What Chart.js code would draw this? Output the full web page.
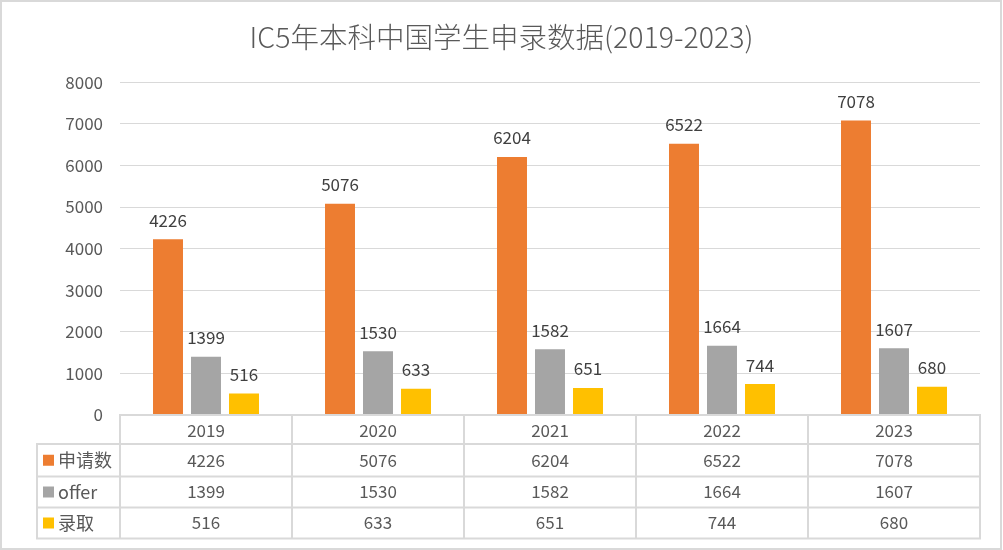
<!DOCTYPE html>
<html>
<head>
<meta charset="utf-8">
<script src="https://cdn.jsdelivr.net/npm/chart.js@4/dist/chart.umd.min.js"></script>
<style>
html,body{margin:0;padding:0;background:#fff;}
#wrap{width:1003px;height:550px;position:relative;}
</style>
</head>
<body>
<div id="wrap"><canvas id="c" width="1003" height="550"></canvas></div>
<script>
const titleText = "IC5年本科中国学生申录数据(2019-2023)";
const categories = ["2019", "2020", "2021", "2022", "2023"];
const seriesNames = ["申请数", "offer", "录取"];
const applications = [4226, 5076, 6204, 6522, 7078];
const offers = [1399, 1530, 1582, 1664, 1607];
const admissions = [516, 633, 651, 744, 680];
const seriesColors = ["#ED7D31", "#A5A5A5", "#FFC000"];
const yTicks = [0, 1000, 2000, 3000, 4000, 5000, 6000, 7000, 8000];

const FONT = "'Noto Sans CJK SC', 'Noto Sans', sans-serif";
const TXT = "#595959";
const LINE = "#d9d9d9";

const seriesData = [applications, offers, admissions];

const tablePlugin = {
  id: 'tablePlugin',
  afterDraw(chart) {
    const ctx = chart.ctx;
    const area = chart.chartArea;
    const xs = chart.scales.x;
    const n = categories.length;
    const colW = (area.right - area.left) / n;
    const top = area.bottom;
    const rows = [top, top + 29, top + 61.5, top + 92.5, top + 123.5];
    const leftX = 37;
    ctx.save();
    // data labels
    ctx.font = "17px " + FONT;
    ctx.fillStyle = "#404040";
    ctx.textAlign = "center";
    ctx.textBaseline = "middle";
    chart.data.datasets.forEach((ds, di) => {
      const meta = chart.getDatasetMeta(di);
      meta.data.forEach((bar, i) => {
        ctx.fillText(String(ds.data[i]), bar.x, bar.y - 19);
      });
    });
    // table lines
    ctx.strokeStyle = LINE;
    ctx.lineWidth = 2;
    ctx.beginPath();
    ctx.moveTo(area.left, rows[0]); ctx.lineTo(area.right, rows[0]);
    for (let r = 1; r < rows.length; r++) {
      ctx.moveTo(leftX, rows[r]); ctx.lineTo(area.right, rows[r]);
    }
    for (let i = 0; i <= n; i++) {
      const x = area.left + i * colW;
      ctx.moveTo(x, rows[0] - 1); ctx.lineTo(x, rows[4] + 1);
    }
    ctx.moveTo(leftX, rows[1] - 1); ctx.lineTo(leftX, rows[4] + 1);
    ctx.stroke();
    // header text
    ctx.fillStyle = TXT;
    ctx.font = "17px " + FONT;
    ctx.textAlign = "center";
    ctx.textBaseline = "middle";
    categories.forEach((c, i) => {
      const cx = xs.getPixelForValue(i);
      ctx.fillText(c, cx, (rows[0] + rows[1]) / 2 + 1);
    });
    seriesData.forEach((arr, si) => {
      const cy = (rows[si + 1] + rows[si + 2]) / 2;
      arr.forEach((v, i) => {
        const cx = xs.getPixelForValue(i);
        ctx.textAlign = "center";
        ctx.fillText(String(v), cx, cy);
      });
      ctx.fillStyle = seriesColors[si];
      ctx.fillRect(43, cy - 5.5, 11, 11);
      ctx.fillStyle = TXT;
      ctx.textAlign = "left";
      ctx.font = "18px " + FONT;
      ctx.fillText(seriesNames[si], 58, cy);
      ctx.font = "17px " + FONT;
    });
    // outer border
    ctx.strokeStyle = LINE;
    ctx.lineWidth = 2;
    ctx.strokeRect(1, 1, 1000, 548);
    ctx.restore();
  }
};

new Chart(document.getElementById('c'), {
  type: 'bar',
  data: {
    labels: categories,
    datasets: seriesNames.map((name, i) => ({
      label: name,
      data: seriesData[i],
      backgroundColor: seriesColors[i],
      borderWidth: 0,
      categoryPercentage: 0.6628,
      barPercentage: 0.789
    }))
  },
  options: {
    responsive: false,
    animation: false,
    devicePixelRatio: 1,
    layout: { padding: { left: 0, right: 0, top: 0, bottom: 135 } },
    plugins: {
      legend: { display: false },
      tooltip: { enabled: false },
      title: {
        display: true,
        text: titleText,
        color: TXT,
        font: { family: FONT, size: 28.5, weight: '300' },
        padding: { top: 20, bottom: 28 }
      }
    },
    scales: {
      x: { display: false },
      y: {
        min: 0,
        max: 8000,
        afterFit(scale) { scale.width = 120; },
        afterBuildTicks(scale) { scale.ticks = yTicks.map(v => ({ value: v })); },
        ticks: {
          color: TXT,
          font: { family: FONT, size: 17 },
          padding: 17,
          callback: (v) => String(v)
        },
        grid: { color: LINE, lineWidth: 1, drawTicks: false },
        border: { display: false }
      },
      yRight: {
        position: 'right',
        min: 0,
        max: 8000,
        afterFit(scale) { scale.width = 23; },
        ticks: { display: false },
        grid: { display: false, drawTicks: false },
        border: { display: false }
      }
    }
  },
  plugins: [tablePlugin]
});
</script>
</body>
</html>
